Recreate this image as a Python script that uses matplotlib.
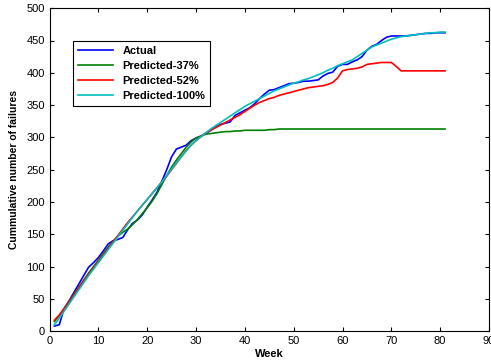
import matplotlib
matplotlib.use('Agg')
import matplotlib.pyplot as plt
import numpy as np

plt.rcParams['font.family'] = ['Liberation Sans', 'DejaVu Sans']

weeks = np.arange(1, 82)

# cumulative failures, weeks 1..81
actual = [8, 10, 35, 47, 60, 73, 86, 99, 106, 114,
          124, 135, 140, 142, 145, 157, 167, 172, 180, 192,
          203, 215, 232, 250, 270, 282, 285, 288, 295, 299,
          302, 306, 311, 316, 320, 322, 324, 334, 338, 342,
          346, 352, 360, 367, 373, 374, 377, 380, 383, 384,
          385, 387, 387, 388, 389, 395, 399, 401, 410, 413,
          413, 417, 420, 425, 435, 441, 444, 450, 455, 457,
          457, 457, 457, 458, 459, 460, 461, 461, 462, 462,
          462]

pred_37 = [15, 24, 35, 46, 57, 68, 79, 90, 100, 110,
           120, 130, 139, 147, 153, 158, 165, 173, 182, 191,
           201, 213, 227, 241, 254, 265, 275, 285, 293, 299,
           302, 305, 306, 307, 308, 309, 309, 310, 310, 311,
           311, 311, 311, 311, 312, 312, 313, 313, 313, 313,
           313, 313, 313, 313, 313, 313, 313, 313, 313, 313,
           313, 313, 313, 313, 313, 313, 313, 313, 313, 313,
           313, 313, 313, 313, 313, 313, 313, 313, 313, 313,
           313]

pred_52 = [17, 25, 35, 45, 56, 67, 78, 88, 98, 108,
           118, 128, 138, 148, 158, 168, 177, 186, 195, 204,
           213, 222, 231, 240, 250, 260, 270, 280, 288, 295,
           301, 307, 311, 315, 319, 323, 327, 331, 335, 340,
           345, 350, 354, 357, 360, 362, 365, 367, 369, 371,
           373, 375, 377, 378, 379, 380, 382, 385, 392, 403,
           405, 406, 407, 409, 413, 414, 415, 416, 416, 416,
           410, 403, 403, 403, 403, 403, 403, 403, 403, 403,
           403]

pred_100 = [10, 20, 31, 42, 53, 64, 75, 86, 96, 106,
            116, 126, 136, 146, 156, 166, 176, 186, 195, 204,
            213, 222, 231, 241, 251, 261, 270, 279, 288, 295,
            301, 307, 313, 318, 323, 328, 333, 338, 343, 348,
            352, 356, 360, 364, 368, 372, 375, 378, 381, 384,
            386, 389, 391, 394, 397, 400, 404, 407, 411, 414,
            417, 420, 425, 430, 435, 440, 443, 446, 449, 452,
            454, 456, 457, 458, 459, 460, 461, 462, 462, 463,
            463]

fig = plt.figure(figsize=(4.91, 3.62), dpi=100)
ax = fig.add_axes([49.5/491, 30.8/362, 439.5/491, 323/362])

lw = 1.2
ax.plot(weeks, actual, color='#0000ff', linewidth=lw, label='Actual')
ax.plot(weeks, pred_37, color='#008000', linewidth=lw, label='Predicted-37%')
ax.plot(weeks, pred_52, color='#ff0000', linewidth=lw, label='Predicted-52%')
ax.plot(weeks, pred_100, color='#00bfbf', linewidth=lw, label='Predicted-100%')

ax.set_xlim(0, 90)
ax.set_ylim(0, 500)
ax.set_xticks(range(0, 91, 10))
ax.set_yticks(range(0, 501, 50))
ax.tick_params(direction='in', top=True, right=True, labelsize=8, length=3)

ax.set_xlabel('Week', fontsize=8, fontweight='bold', labelpad=2)
ax.set_ylabel('Cummulative number of failures', fontsize=7.5, fontweight='bold', labelpad=5)

leg = ax.legend(loc='upper left', bbox_to_anchor=(0.053, 0.898), borderaxespad=0,
                fancybox=False, edgecolor='black', framealpha=1,
                prop={'weight': 'bold', 'size': 8},
                handlelength=3.2, borderpad=0.45, labelspacing=0.45)
leg.get_frame().set_linewidth(0.8)

fig.savefig('out.png', dpi=100)
